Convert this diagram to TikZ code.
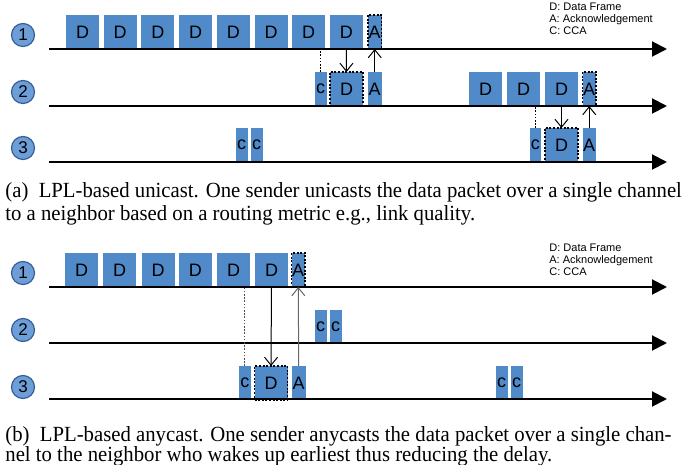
\documentclass[tikz,border=0pt]{standalone}
\usepackage{fontspec}
\usepackage{graphicx}
\setmainfont{Liberation Serif}
\setsansfont{Liberation Sans}
\usetikzlibrary{arrows.meta}
\definecolor{pktblue}{RGB}{80,138,200}
\definecolor{circblue}{RGB}{110,158,215}
\definecolor{circedge}{RGB}{55,95,150}
\tikzset{
  pkt/.style={fill=pktblue, inner sep=0pt, outer sep=0pt, anchor=north west,
    minimum height=17pt, font=\sffamily\fontsize{9}{9}\selectfont},
  dw/.style={minimum width=16.5pt},
  aw/.style={minimum width=6.75pt},
  cw/.style={minimum width=5.75pt},
  dotbox/.style={draw=black, line width=0.6pt, dash pattern=on 1pt off 0.8pt},
  timeline/.style={line width=1pt, -{Triangle[length=7.5pt,width=7.5pt]}},
  msg/.style={line width=0.5pt, -{Straight Barb[length=4pt,width=6.5pt]}},
  cca/.style={line width=0.6pt, dash pattern=on 0.8pt off 0.8pt},
  num/.style={circle, minimum size=11.5pt, inner sep=0pt, fill=circblue, draw=circedge,
    line width=0.6pt, font=\sffamily\fontsize{8.5}{8.5}\selectfont},
  legend/.style={anchor=north west, align=left, inner sep=0pt,
    font=\sffamily\fontsize{5.5}{6}\selectfont},
  caption/.style={anchor=base west, inner sep=0pt, font=\rmfamily\fontsize{10.8}{12}\selectfont}
}
\begin{document}
\begin{tikzpicture}[x=0.5pt,y=-0.5pt]
\useasboundingbox (0,0) rectangle (682,465);
% ===== panel (a) =====
\node[num] (a1) at (23,35) {1};
\node[num] (a2) at (23,92) {2};
\node[num] (a3) at (23,148) {3};
% row 1
\node[pkt,dw] (aD1) at (66,15) {D};
\node[pkt,dw] (aD2) at (103.7,15) {D};
\node[pkt,dw] (aD3) at (141.4,15) {D};
\node[pkt,dw] (aD4) at (179.1,15) {D};
\node[pkt,dw] (aD5) at (216.8,15) {D};
\node[pkt,dw] (aD6) at (254.5,15) {D};
\node[pkt,dw] (aD7) at (292.2,15) {D};
\node[pkt,dw] (aD8) at (329.9,15) {D};
\node[pkt,aw,dotbox] (aA1) at (368,15) {A};
% row 2
\node[pkt,cw] (ac2) at (315,72) {c};
\node[pkt,dw,dotbox] (aDr2) at (330,72) {D};
\node[pkt,aw] (aAr2) at (368,72) {A};
\node[pkt,dw] (aE1) at (469,72) {D};
\node[pkt,dw] (aE2) at (507,72) {D};
\node[pkt,dw] (aE3) at (545,72) {D};
\node[pkt,aw,dotbox] (aB2) at (582.5,72) {A};
% row 3
\node[pkt,cw] (ac3a) at (236,128) {c};
\node[pkt,cw] (ac3b) at (251,128) {c};
\node[pkt,cw] (ac3c) at (529.5,128) {c};
\node[pkt,dw,dotbox] (aDr3) at (545,128) {D};
\node[pkt,aw] (aAr3) at (582.5,128) {A};
% timelines
\coordinate (aL1s) at (49,49); \coordinate (aL1e) at (667,49);
\coordinate (aL2s) at (49,106); \coordinate (aL2e) at (667,106);
\coordinate (aL3s) at (49,162); \coordinate (aL3e) at (667,162);
\draw[timeline] (aL1s) -- (aL1e);
\draw[timeline] (aL2s) -- (aL2e);
\draw[timeline] (aL3s) -- (aL3e);
% messages
\draw[cca] (ac2.north) -- (ac2.north |- aL1s);
\draw[msg] (aD8.south) -- (aDr2.north);
\draw[msg] (aAr2.north) -- (aA1.south);
\draw[cca] (ac3c.north) -- (ac3c.north |- aL2s);
\draw[msg] (aE3.south) -- (aDr3.north);
\draw[msg] (aAr3.north) -- (aB2.south);
% legend
\node[legend] (aleg) at (549,3) {D: Data Frame\\A: Acknowledgement\\C: CCA};
% caption
\node[caption] (capa1) at (5,198) {\scalebox{0.96}[1]{(a)\hspace{0.5em}LPL-based unicast. One sender unicasts the data packet over a single channel}};
\node[caption] (capa2) at (5,221) {\scalebox{0.96}[1]{to a neighbor based on a routing metric e.g., link quality.}};
% ===== panel (b) =====
\node[num] (b1) at (23,273) {1};
\node[num] (b2) at (23,330) {2};
\node[num] (b3) at (23,387) {3};
% row 1
\node[pkt,dw] (bD1) at (65,253) {D};
\node[pkt,dw] (bD2) at (103,253) {D};
\node[pkt,dw] (bD3) at (141.5,253) {D};
\node[pkt,dw] (bD4) at (179,253) {D};
\node[pkt,dw] (bD5) at (217,253) {D};
\node[pkt,dw] (bD6) at (255,253) {D};
\node[pkt,aw,dotbox] (bA1) at (291.5,253) {A};
% row 2
\node[pkt,cw] (bc2a) at (315,310) {c};
\node[pkt,cw] (bc2b) at (330,310) {c};
% row 3
\node[pkt,cw] (bc3) at (239,366) {c};
\node[pkt,dw,dotbox] (bDr3) at (254.5,366) {D};
\node[pkt,aw] (bAr3) at (292,366) {A};
\node[pkt,cw] (bc3a) at (496,366) {c};
\node[pkt,cw] (bc3b) at (511,366) {c};
% timelines
\coordinate (bL1s) at (49,287); \coordinate (bL1e) at (667,287);
\coordinate (bL2s) at (49,343); \coordinate (bL2e) at (667,343);
\coordinate (bL3s) at (49,399); \coordinate (bL3e) at (667,399);
\draw[timeline] (bL1s) -- (bL1e);
\draw[timeline] (bL2s) -- (bL2e);
\draw[timeline] (bL3s) -- (bL3e);
% messages
\draw[cca,black!70] (bc3.north) -- (bc3.north |- bL1s);
\draw[msg] (bD6.south) -- (bDr3.north);
\draw[msg,black!60] (bAr3.north) -- (bA1.south);
% legend
\node[legend] (bleg) at (549,244) {D: Data Frame\\A: Acknowledgement\\C: CCA};
% caption
\node[caption] (capb1) at (5,442) {\scalebox{0.96}[1]{(b)\hspace{0.5em}LPL-based anycast. One sender anycasts the data packet over a single chan-}};
\node[caption] (capb2) at (5,462) {\scalebox{0.96}[1]{nel to the neighbor who wakes up earliest thus reducing the delay.}};
\end{tikzpicture}
\end{document}
